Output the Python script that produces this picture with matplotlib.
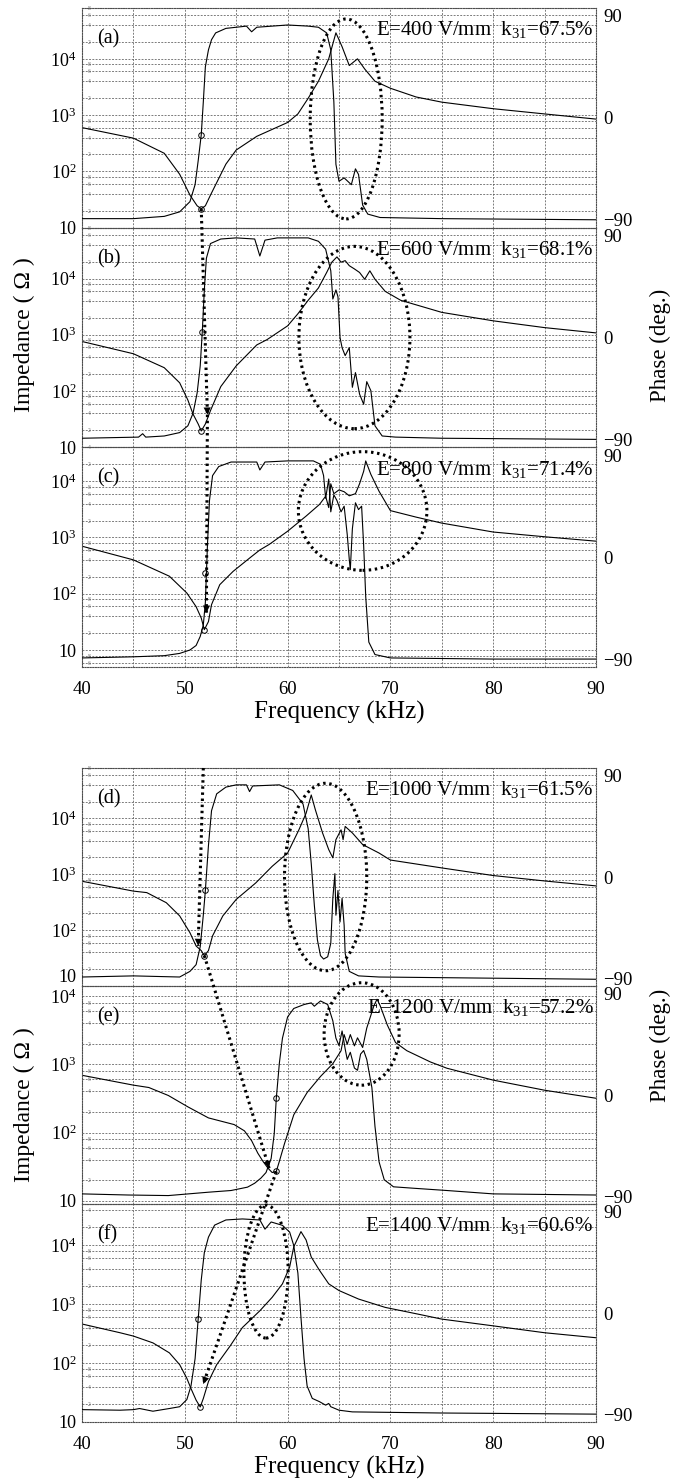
import matplotlib
matplotlib.use('Agg')
import matplotlib.pyplot as plt
import numpy as np
from matplotlib.patches import Ellipse, FancyArrowPatch
from matplotlib.lines import Line2D
from matplotlib.ticker import LogLocator, FuncFormatter

plt.rcParams['font.family'] = ['Liberation Serif', 'DejaVu Serif']
plt.rcParams['mathtext.fontset'] = 'custom'
plt.rcParams['mathtext.rm'] = 'Liberation Serif'
plt.rcParams['mathtext.it'] = 'Liberation Serif:italic'

# ---- valores (kHz, Ohm, graus) ----
# (a) E=400 V/mm
freq_a_z = [40, 45, 48, 49.5, 50.5, 51.2, 51.6, 52.0, 52.5, 53, 54, 55, 57, 60, 61, 62, 63, 64, 64.7,
            65.3, 66, 66.8, 67.5, 68.5, 70, 72.5, 75, 80, 85, 90]
imp_a = [600, 390, 210, 89, 38, 24.5, 21.7, 24.5, 38, 58, 135, 240, 420, 740, 1050, 1990, 4000, 10000, 29000,
         16400, 7600, 10000, 6600, 4000, 3000, 2100, 1700, 1300, 1050, 850]
freq_a_p = [40, 45, 48, 49.5, 50.5, 51.0, 51.3, 51.6, 51.8, 52.0, 52.3, 52.6, 53.0, 54.0, 56.0, 56.5, 57.0,
            60.0, 62.0, 63.0, 63.8, 64.2, 64.5, 64.7, 65.0, 65.5, 66.2, 66.6, 66.9, 67.3, 67.8, 69, 75, 90]
phase_a = [-89, -89, -87, -83, -74, -59, -38, -15, 14, 45, 60, 69, 75, 79, 81, 76, 80,
           82, 81, 80, 75, 60, 14, -41, -56, -53, -59, -45, -50, -77, -85, -88, -89, -90]

# (b) E=600 V/mm
freq_b_z = [40, 45, 48, 49.5, 50.3, 50.8, 51.3, 51.6, 52.0, 52.5, 53.5, 55, 57, 58, 60, 61, 62, 63, 63.8,
            64.3, 64.8, 65.2, 65.6, 66.0, 66.5, 67.0, 67.5, 68.0, 68.5, 69.5, 71, 75, 80, 85, 90]
imp_b = [760, 460, 260, 140, 69, 39, 26, 19.5, 26, 45, 120, 280, 660, 820, 1440, 2360, 4100, 6800, 12800,
         19500, 24200, 19500, 20800, 16900, 14800, 12800, 9700, 13700, 9700, 5900, 4100, 2500, 1770, 1340, 1080]
freq_b_p = [40, 45.5, 45.9, 46.2, 48, 49.5, 50.3, 50.8, 51.2, 51.5, 51.7, 51.9, 52.1, 52.5, 53.5, 55, 56.8,
            57.3, 57.8, 59, 62, 63, 63.7, 64.2, 64.4, 64.7, 64.9, 65.1, 65.3, 65.6, 66.0, 66.3, 66.6, 67.0,
            67.4, 67.7, 68.1, 68.5, 69.2, 70.5, 75, 90]
phase_b = [-89, -88, -85, -88, -87, -84, -78, -67, -49, -25, 5, 42, 70, 83, 87, 88, 87,
           72, 86, 88, 88, 85, 78, 59, 34, 42, 36, 0, -9, -16, -9, -44, -31, -50,
           -59, -39, -47, -78, -87, -88, -89, -90]

# (c) E=800 V/mm
freq_c_z = [40, 45, 48.5, 50.2, 51.1, 51.6, 51.9, 52.3, 52.6, 53.4, 54.7, 56.3, 57.3, 58.2, 60, 61.8, 63.1,
            63.7, 64.0, 64.2, 64.5, 65.0, 65.5, 66.0, 66.6, 67.0, 67.4, 67.6, 68.1, 68.9, 70, 72.5, 75, 80, 85, 90]
imp_c = [700, 400, 205, 103, 59, 37, 23, 32, 64, 145, 250, 430, 600, 750, 1290, 2400, 3860,
         5400, 3400, 9000, 6000, 7000, 6500, 5500, 6000, 9000, 15000, 22900, 13200, 6600, 3000, 2300, 1800,
         1250, 1030, 860]
freq_c_p = [40, 45, 48, 49.5, 50.5, 51.1, 51.5, 51.8, 52.0, 52.2, 52.4, 52.7, 53.3, 54.5, 57.0, 57.3, 57.8,
            60, 62.5, 63.2, 63.5, 63.7, 64.0, 64.2, 64.5, 64.8, 65.2, 65.5, 65.8, 66.0, 66.1, 66.3, 66.6,
            66.9, 67.2, 67.4, 67.6, 67.9, 68.5, 70, 80, 90]
phase_c = [-89, -88, -87, -85, -82, -78, -70, -60, -40, 10, 50, 72, 80, 84, 84, 77, 84,
           85, 85, 82, 72, 52, 69, 40, 55, 50, 40, 45, 20, -2, -11, 25, 48,
           42, 45, 10, -35, -75, -86, -89, -90, -90]

# (d) E=1000 V/mm
freq_d_z = [40, 45, 46.3, 48.2, 49.5, 50.5, 51.1, 51.6, 51.9, 52.3, 52.7, 53.7, 55, 56.9, 58.5, 60, 61.1,
            61.8, 62.3, 62.7, 63.4, 64.0, 64.4, 64.7, 65.2, 65.4, 65.6, 66.3, 67.3, 68.9, 70, 75, 80, 85, 90]
imp_d = [750, 500, 470, 310, 180, 90, 52, 43, 35, 43, 79, 180, 355, 700, 1390, 2400, 6260,
         12400, 26300, 14300, 5500, 2770, 1970, 4170, 6260, 4170, 7190, 5500, 3410, 2400, 1800, 1300, 950,
         760, 620]
freq_d_p = [40, 45, 49.5, 50.5, 51.1, 51.5, 51.8, 52.0, 52.3, 52.6, 53.1, 54, 55, 56.0, 56.3, 56.6, 59.2,
            60.5, 61.5, 62.0, 62.3, 62.6, 62.9, 63.2, 63.5, 63.9, 64.2, 64.4, 64.6, 64.7, 64.9, 65.1, 65.3,
            65.5, 65.6, 66.0, 66.9, 68.9, 90]
phase_d = [-89, -88, -89, -84, -78, -62, -34, -12, 28, 59, 74, 80, 82, 82, 76, 81, 82,
           77, 65, 43, 12, -25, -56, -70, -73, -71, -59, -19, 3, -34, -12, -40, -19,
           -43, -68, -84, -88, -89, -91]

# (e) E=1200 V/mm
freq_e_z = [40, 45, 46.5, 48.4, 50.3, 52.3, 54.8, 55.8, 56.5, 57.1, 57.6, 58.1, 58.5, 58.9, 59.2, 59.7,
            60.6, 61.9, 63.2, 64.4, 65.2, 65.5, 65.8, 66.1, 66.5, 66.8, 67.3, 67.7, 68.4, 68.7, 69.0, 69.7,
            70.5, 71.6, 73.9, 75.5, 80, 85, 90]
imp_e = [690, 495, 457, 349, 238, 164, 131, 106, 76, 50, 38, 30, 26, 27, 38, 69,
         182, 386, 663, 1020, 1580, 2720, 1960, 2720, 1860, 2440, 1760, 3390, 7230, 8960, 7230, 3760,
         2080, 1580, 1080, 875, 586, 417, 318]
freq_e_p = [40, 44.5, 48.4, 52.3, 54.5, 56.1, 56.8, 57.4, 57.9, 58.4, 58.7, 58.9, 59.2, 59.5, 60.0, 60.6,
            61.6, 62.3, 62.6, 63.2, 63.9, 64.4, 64.7, 65.0, 65.3, 65.6, 65.8, 66.1, 66.5, 66.8, 67.1, 67.4,
            67.7, 68.2, 68.5, 68.9, 69.4, 70.3, 72.3, 75.5, 80, 90]
phase_e = [-88, -89, -89.5, -86.5, -85, -82, -78.5, -74, -69, -56.5, -34.5, -3, 28.5, 50.6, 69.5, 77,
           80.5, 82, 79, 83.7, 80.5, 66, 50.6, 44, 57, 41, 31.7, 38, 24, 22, 36.4, 39.6,
           31.7, 6.5, -28, -59.6, -75.4, -81.7, -83, -85, -88, -89]

# (f) E=1400 V/mm
freq_f_z = [40, 43.7, 45, 46.9, 48.5, 49.5, 50.2, 50.6, 51.1, 51.5, 51.8, 52.3, 53.1, 54.4, 55.6, 57.3,
            58.5, 59.5, 60.2, 60.6, 61.3, 61.8, 62.3, 63.1, 64.0, 65, 66.9, 69.5, 72.7, 75, 80, 85, 90]
imp_f = [460, 327, 287, 220, 149, 94, 55, 37, 23.5, 18, 25, 48.5, 94, 194, 400, 771,
         1306, 2210, 4270, 9400, 17000, 12250, 6300, 3750, 2210, 1700, 1220, 880, 676, 557, 428, 327, 269]
freq_f_p = [40, 43.7, 45, 45.6, 46.9, 48.5, 49.5, 50.2, 50.6, 51.0, 51.3, 51.6, 51.9, 52.3, 52.9, 54.0,
            55.6, 57.3, 57.8, 58.4, 59.5, 60.2, 60.6, 61.0, 61.3, 61.6, 61.9, 62.4, 63.1, 63.7, 64.0, 64.2,
            65, 66.3, 75, 90]
phase_f = [-86, -86.5, -86, -85, -87.4, -85, -83.4, -77, -65, -40.7, -5.6, 29.4, 53.8, 67.5, 78.2, 82.8,
           83.7, 82.8, 74.6, 81, 78, 72, 60, 35.5, -4, -40.7, -65, -76, -78.9, -82, -80.5, -83.4,
           -86.5, -88, -89, -90]

letters = ['(a)', '(b)', '(c)', '(d)', '(e)', '(f)']
fields = ['400', '600', '800', '1000', '1200', '1400']
k31 = ['67.5', '68.1', '71.4', '61.5', '57.2', '60.6']

# circulos marcados nas curvas
mark_freq_z = [51.6, 51.6, 51.9, 51.9, 58.9, 51.5]
mark_imp = [21.7, 19.5, 23, 35, 27, 18]
mark_freq_p = [51.6, 51.7, 51.95, 52.0, 58.9, 51.3]
mark_phase = [-15, 5, -14, -12, -3, -5.6]

# pontas das setas (kHz, Ohm)
tip_freq = {'b': 52.2, 'c': 52.1, 'd': 51.3, 'e': 58.2, 'f': 51.8}
tip_imp = {'b': 38, 'c': 46, 'd': 52, 'e': 30, 'f': 44}

freqs_z = [freq_a_z, freq_b_z, freq_c_z, freq_d_z, freq_e_z, freq_f_z]
imps = [imp_a, imp_b, imp_c, imp_d, imp_e, imp_f]
freqs_p = [freq_a_p, freq_b_p, freq_c_p, freq_d_p, freq_e_p, freq_f_p]
phases = [phase_a, phase_b, phase_c, phase_d, phase_e, phase_f]

# ---- layout ----
W, H = 682, 1483
fig = plt.figure(figsize=(W / 100, H / 100), dpi=100)

tops = [8, 227.7, 447.3, 768, 986, 1204]
bots = [227.7, 447.3, 667, 986, 1204, 1422]
zlims = [(10, 8e4), (10, 8e4), (5, 4e4), (10, 8e4), (9, 1.4e4), (10, 5e4)]
# elipses: (centro kHz, centro fração, largura kHz, altura fração)
ellipses = [(65.7, 0.495, 7.0, 0.91), (66.5, 0.50, 10.8, 0.83), (67.3, 0.71, 12.5, 0.54),
            (63.7, 0.50, 8.0, 0.86), (67.2, 0.78, 7.3, 0.47), (57.9, 0.69, 4.3, 0.61)]

dot = (0, (1, 1.3))
grid_ls = (0, (2.5, 1.8))

axes = []
for i in range(6):
    ax = fig.add_axes([82 / W, 1 - bots[i] / H, 514 / W, (bots[i] - tops[i]) / H])
    ax.set_facecolor('none')
    ax.set_xlim(40, 90)
    ax.set_yscale('log')
    ax.set_ylim(*zlims[i])
    dec = [v for v in [10, 100, 1000, 10000] if zlims[i][0] <= v <= zlims[i][1]]
    labs = ['10' if v == 10 else r'$10^{%d}$' % int(np.log10(v)) for v in dec]
    ax.set_yticks(dec, labels=labs)
    ax.yaxis.set_minor_locator(LogLocator(base=10, subs=(2, 4, 6, 8), numticks=20))
    ax.yaxis.set_minor_formatter(FuncFormatter(
        lambda v, p: '%d' % round(v / 10 ** np.floor(np.log10(v) + 1e-9))))
    ax.set_xticks(np.arange(40, 91, 10))
    ax.set_xticks(np.arange(45, 90, 10), minor=True)
    ax.grid(True, which='both', ls=grid_ls, color='0.35', lw=0.55)
    ax.set_axisbelow(True)
    ax.tick_params(which='both', length=0)
    ax.tick_params(axis='y', which='major', labelsize=13, pad=4)
    ax.tick_params(axis='y', which='minor', labelsize=4, pad=-6, labelcolor='0.4')
    ax.tick_params(axis='x', labelsize=13.5, pad=10, labelbottom=(i in (2, 5)))
    for s in ax.spines.values():
        s.set_linestyle(dot)
        s.set_color('0.3')
        s.set_linewidth(0.8)
    if i == 3:
        ax.get_yticklabels()[0].set_va('bottom')

    ax.plot(freqs_z[i], imps[i], color='k', lw=0.8)
    ax.plot(mark_freq_z[i], mark_imp[i], 'o', mfc='none', mec='k', ms=4, mew=0.7)

    ax2 = ax.twinx()
    ax2.set_ylim(-97, 97)
    ax2.set_yticks([-90, 0, 90])
    ax2.tick_params(length=0, labelsize=13.5, pad=5)
    for s in ax2.spines.values():
        s.set_visible(False)
    ax2.plot(freqs_p[i], phases[i], color='k', lw=0.8)
    ax2.plot(mark_freq_p[i], mark_phase[i], 'o', mfc='none', mec='k', ms=4, mew=0.7)

    cx, cy, w, h = ellipses[i]
    ax2.add_patch(Ellipse(((cx - 40) / 50, cy), w / 50, h, transform=ax.transAxes, fill=False,
                          ec='k', lw=2.2, ls=(0, (0.8, 1.2)), clip_on=False, zorder=5))

    ax2.text(0.03, 0.86, letters[i], transform=ax.transAxes, fontsize=14.5, va='center')
    ax2.text(0.995, 0.9, 'E=%s V/mm  k$_{31}$=%s%%' % (fields[i], k31[i]), transform=ax.transAxes,
             fontsize=15, ha='right', va='center')
    axes.append(ax)

axes[2].set_xlabel('Frequency (kHz)', fontsize=18, labelpad=2)
axes[5].set_xlabel('Frequency (kHz)', fontsize=18, labelpad=2)

fig.text(24 / W, 1 - 335 / H, 'Impedance ( Ω )', rotation=90, ha='center', va='center', fontsize=17)
fig.text(24 / W, 1 - 1105 / H, 'Impedance ( Ω )', rotation=90, ha='center', va='center', fontsize=17)
fig.text(660 / W, 1 - 345 / H, 'Phase (deg.)', rotation=90, ha='center', va='center', fontsize=16.5)
fig.text(660 / W, 1 - 1045 / H, 'Phase (deg.)', rotation=90, ha='center', va='center', fontsize=16.5)

# ---- setas pontilhadas entre paineis ----
inv = fig.transFigure.inverted()


def link(axA, ptA, axB, ptB, head=True):
    pa = axA.transData.transform(ptA)
    pb = axB.transData.transform(ptB)
    fa, fb = inv.transform(pa), inv.transform(pb)
    fig.add_artist(Line2D([fa[0], fb[0]], [fa[1], fb[1]], transform=fig.transFigure,
                          color='k', lw=2.2, ls=(0, (0.8, 1.2)), zorder=6))
    if head:
        d = (pb - pa) / np.hypot(*(pb - pa))
        ps = inv.transform(pb - d * 11)
        fig.add_artist(FancyArrowPatch(ps, fb, transform=fig.transFigure, arrowstyle='-|>',
                                       mutation_scale=13, color='k', lw=0, shrinkA=0, shrinkB=0,
                                       zorder=7))


ia = int(np.argmin(imp_a))
link(axes[0], (freq_a_z[ia], imp_a[ia]), axes[1], (tip_freq['b'], tip_imp['b']))
link(axes[1], (tip_freq['b'], tip_imp['b']), axes[2], (tip_freq['c'], tip_imp['c']))
link(axes[3], (51.8, zlims[3][1]), axes[3], (tip_freq['d'], tip_imp['d']))
link(axes[3], (mark_freq_z[3], mark_imp[3]), axes[4], (tip_freq['e'], tip_imp['e']))
link(axes[4], (mark_freq_z[4], mark_imp[4]), axes[5], (tip_freq['f'], tip_imp['f']))

fig.savefig('out.png', dpi=100)
